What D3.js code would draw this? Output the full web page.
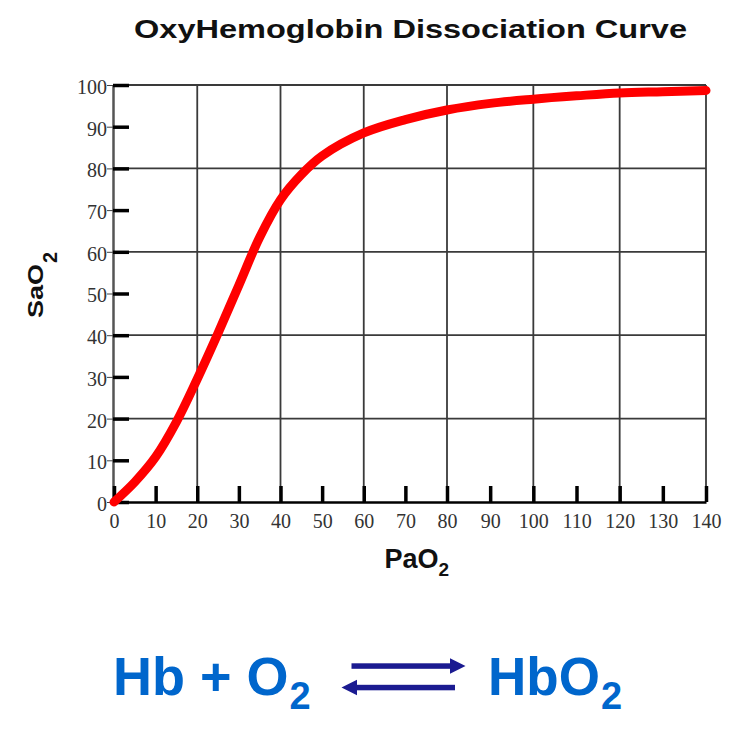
<!DOCTYPE html>
<html><head><meta charset="utf-8">
<script src="https://cdn.jsdelivr.net/npm/d3@7"></script>
<style>body{margin:0;background:#fff} svg{display:block}</style>
</head><body>
<svg id="c" width="744" height="740"></svg>
<script>
// ---- data ----
const title = "OxyHemoglobin Dissociation Curve";
const paO2 = [0, 5, 10, 15, 20, 25, 30, 35, 40, 45, 50, 60, 70, 80, 90, 100, 110, 120, 130, 140];
const saO2 = [0, 4.8, 10.8, 19.2, 29.5, 40.5, 52, 63.5, 72.5, 78.5, 83, 88.5, 91.7, 94, 95.6, 96.6, 97.4, 98.1, 98.4, 98.7];
const xTicks = [0, 10, 20, 30, 40, 50, 60, 70, 80, 90, 100, 110, 120, 130, 140];
const yTicks = [0, 10, 20, 30, 40, 50, 60, 70, 80, 90, 100];
const xGrid = [20, 40, 60, 80, 100, 120, 140];
const yGrid = [20, 40, 60, 80, 100];

const svg = d3.select("#c");
svg.append("rect").attr("width", 744).attr("height", 740).attr("fill", "#fff");

const x = d3.scaleLinear().domain([0, 80, 140]).range([114, 447, 706]);
const y = d3.scaleLinear().domain([0, 100]).range([502, 85]);

const sans = "Liberation Sans, Arial, sans-serif";

// title
svg.append("text").text(title)
  .attr("x", 134).attr("y", 38)
  .attr("textLength", 553).attr("lengthAdjust", "spacingAndGlyphs")
  .attr("font-family", sans)
  .attr("font-weight", "bold").attr("font-size", 26).attr("fill", "#111");

// grid
const grid = svg.append("g").attr("stroke", "#3a3a3a").attr("stroke-width", 1.8);
grid.selectAll("line.v").data(xGrid).join("line").attr("class", "v")
  .attr("x1", d => x(d)).attr("x2", d => x(d))
  .attr("y1", y(100)).attr("y2", y(0));
grid.selectAll("line.h").data(yGrid).join("line").attr("class", "h")
  .attr("x1", x(0) - 1).attr("x2", x(140))
  .attr("y1", d => y(d)).attr("y2", d => y(d));

// y axis
const yAxis = svg.append("g").attr("transform", `translate(${x(0) - 1},0)`)
  .call(d3.axisLeft(y).tickValues(yTicks).tickSizeInner(-16).tickSizeOuter(0).tickPadding(6));
yAxis.select(".domain").attr("stroke", "#555").attr("stroke-width", 2.5);
yAxis.selectAll(".tick line").attr("stroke", "#000").attr("stroke-width", 3.5);
yAxis.selectAll(".tick").append("line").attr("x1", -6).attr("x2", 0)
  .attr("stroke", "#444").attr("stroke-width", 1);
yAxis.selectAll(".tick text")
  .attr("font-family", "Liberation Serif, Times New Roman, serif")
  .attr("font-size", 20).attr("fill", "#333").attr("dy", "0.42em");

// x axis
const xAxis = svg.append("g").attr("transform", `translate(0,${y(0)})`)
  .call(d3.axisBottom(x).tickValues(xTicks).tickSizeInner(-16).tickSizeOuter(0).tickPadding(12));
xAxis.select(".domain").attr("stroke", "#000").attr("stroke-width", 2.5);
xAxis.selectAll(".tick line").attr("stroke", "#000").attr("stroke-width", 3.5);
xAxis.selectAll(".tick text")
  .attr("font-family", "Liberation Serif, Times New Roman, serif")
  .attr("font-size", 20).attr("fill", "#333");

// curve
const pts = paO2.map((p, i) => [p, saO2[i]]);
const line = d3.line().x(d => x(d[0])).y(d => y(d[1])).curve(d3.curveCatmullRom.alpha(0.5));
svg.append("path").datum(pts).attr("d", line)
  .attr("fill", "none").attr("stroke", "#ff0000").attr("stroke-width", 9)
  .attr("stroke-linecap", "round").attr("stroke-linejoin", "round");

// helper: main text + subscript placed right after it
function subText(g, main, sub, x0, y0, size, subSize, subDy, gap, fill) {
  const t = g.append("text").text(main).attr("x", x0).attr("y", y0)
    .attr("font-family", sans).attr("font-weight", "bold").attr("font-size", size).attr("fill", fill);
  const w = t.node().getComputedTextLength();
  g.append("text").text(sub).attr("x", x0 + w + gap).attr("y", y0 + subDy)
    .attr("font-family", sans).attr("font-weight", "bold").attr("font-size", subSize).attr("fill", fill);
}

// axis labels
subText(svg, "PaO", "2", 384.5, 568, 27, 19, 8, 0, "#111");

const yl = svg.append("g").attr("transform", "translate(43,318) rotate(-90)");
yl.append("text").text("SaO").attr("x", 0).attr("y", 0)
  .attr("textLength", 54).attr("lengthAdjust", "spacingAndGlyphs")
  .attr("font-family", sans).attr("font-weight", "bold").attr("font-size", 22).attr("fill", "#111");
yl.append("text").text("2").attr("x", 55).attr("y", 14)
  .attr("font-family", sans).attr("font-weight", "bold").attr("font-size", 20).attr("fill", "#111");

// equation
const blue = "#0066cc";
subText(svg, "Hb + O", "2", 113, 695, 54, 38, 14, 1, blue);
subText(svg, "HbO", "2", 488, 695, 53, 38, 14, 1, blue);

const navy = "#1b1b91";
const ar = svg.append("g").attr("fill", navy);
ar.append("rect").attr("x", 351.5).attr("y", 663.3).attr("width", 100).attr("height", 5.5);
ar.append("path").attr("d", "M450,658.3 L465.5,666 L450,673.7 Z");
ar.append("rect").attr("x", 355).attr("y", 684.8).attr("width", 100).attr("height", 5.5);
ar.append("path").attr("d", "M341.5,687.5 L357,679.8 L357,695.2 Z");
</script>
</body></html>
